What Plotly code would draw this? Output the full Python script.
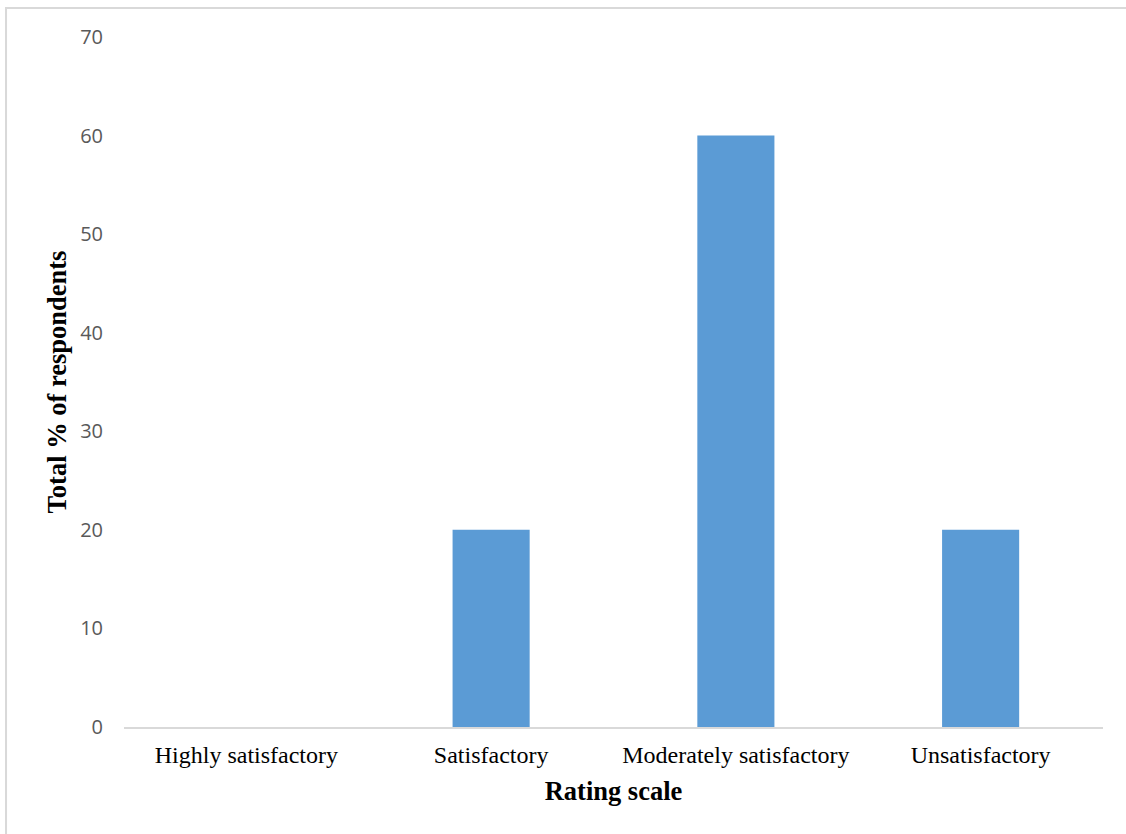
import plotly.graph_objects as go

categories = ["Highly satisfactory", "Satisfactory", "Moderately satisfactory", "Unsatisfactory"]
percent_respondents = [0, 20, 60, 20]
y_ticks = [0, 10, 20, 30, 40, 50, 60, 70]

fig = go.Figure(
    go.Bar(
        x=categories,
        y=percent_respondents,
        marker=dict(color="#5B9BD5", line=dict(width=0)),
        width=0.315,
    )
)

fig.update_layout(
    width=1126,
    height=834,
    margin=dict(l=124, r=23, t=37, b=107),
    paper_bgcolor="white",
    plot_bgcolor="white",
    showlegend=False,
    shapes=[
        dict(
            type="rect", xref="paper", yref="paper",
            x0=-0.1205, x1=1.1, y0=-0.3, y1=1.042,
            line=dict(color="#D9D9D9", width=2), fillcolor="rgba(0,0,0,0)",
            layer="below",
        )
    ],
)

fig.update_xaxes(
    showgrid=False,
    showline=True, linecolor="#D9D9D9", linewidth=2,
    ticks="", tickfont=dict(family="Liberation Serif", size=24, color="black"),
    ticklabelstandoff=5,
    title=dict(text="<b>Rating scale</b>", font=dict(family="Liberation Serif", size=26.5, color="black"), standoff=15),
)

fig.update_yaxes(
    range=[0, 70], tickvals=y_ticks,
    showgrid=False, zeroline=False, showline=False,
    ticks="", tickfont=dict(family="Open Sans", size=20, color="#595959"),
    ticklabelstandoff=20,
    title=dict(text="<b>Total % of respondents</b>", font=dict(family="Liberation Serif", size=26.5, color="black"), standoff=5),
)

fig.write_html("out.html")
